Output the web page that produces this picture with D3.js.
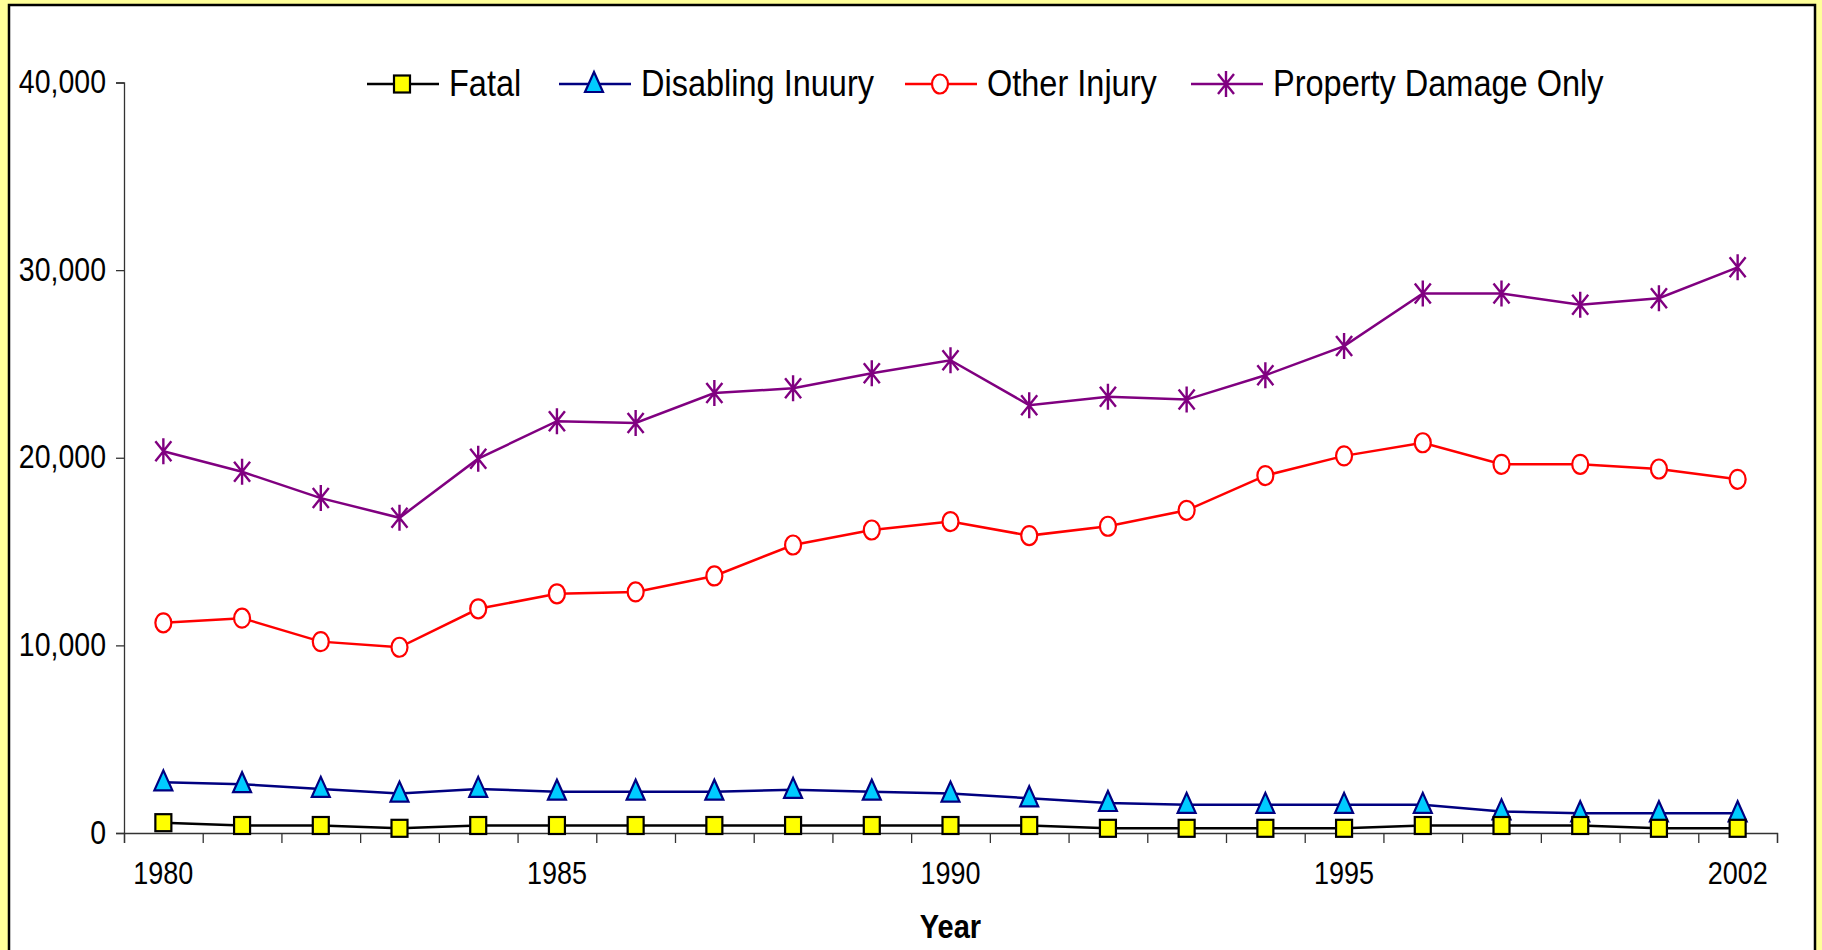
<!DOCTYPE html>
<html>
<head>
<meta charset="utf-8">
<script src="https://cdn.jsdelivr.net/npm/d3@7"></script>
<style>
  body { margin: 0; background: #ffff99; }
  svg { display: block; font-family: "Liberation Sans", Arial, sans-serif; }
</style>
</head>
<body>
<div id="chart"></div>
<script>
// Categories and series values
const years = ["1980", "1981", "1982", "1983", "1984", "1985", "1986", "1987", "1988", "1989",
  "1990", "1991", "1992", "1993", "1994", "1995", "1996", "1997", "1998", "1999", "2002"];
const labelYears = ["1980", "1985", "1990", "1995", "2002"];
const yTicks = [0, 10000, 20000, 30000, 40000];

const fatal = [550, 400, 400, 250, 400, 400, 400, 400, 400, 400, 400, 400, 250, 250, 250, 250, 400, 400, 400, 250, 250];
const disabling = [2700, 2600, 2350, 2100, 2350, 2200, 2200, 2200, 2300, 2200, 2100, 1850, 1600, 1500, 1500, 1500, 1500, 1150, 1050, 1050, 1050];
const otherInjury = [11200, 11450, 10200, 9900, 11950, 12750, 12850, 13700, 15350, 16150, 16600, 15850, 16350, 17200, 19050, 20100, 20800, 19650, 19650, 19400, 18850];
const propertyDamage = [20350, 19250, 17850, 16800, 19950, 21950, 21850, 23450, 23700, 24500, 25200, 22800, 23250, 23100, 24400, 25950, 28750, 28750, 28150, 28500, 30150];

const seriesNames = ["Fatal", "Disabling Inuury", "Other Injury", "Property Damage Only"];

const W = 1822, H = 950;
const plotLeft = 124, plotRight = 1777, plotTop = 82.5, plotBottom = 833;
const SY = 1.15; // text in the picture is a bit taller than normal

const svg = d3.select("#chart").append("svg")
  .attr("width", W)
  .attr("height", H);

// yellow frame and white panel
svg.append("rect").attr("width", W).attr("height", H).attr("fill", "#ffff99");
svg.append("rect")
  .attr("x", 9).attr("y", 5)
  .attr("width", 1806).attr("height", 960)
  .attr("fill", "white")
  .attr("stroke", "black")
  .attr("stroke-width", 2.5);

const x = d3.scaleBand().domain(years).range([plotLeft, plotRight]);
const xEdge = d3.scaleLinear().domain([0, years.length]).range([plotLeft, plotRight]);
const y = d3.scaleLinear().domain([0, 40000]).range([plotBottom, plotTop]);
const cx = d => x(d) + x.bandwidth() / 2;

function stretchText(g, px, py, str, size, anchor, weight) {
  return g.append("text")
    .attr("transform", `translate(${px},${py}) scale(1,${SY})`)
    .attr("text-anchor", anchor)
    .style("font-size", size + "px")
    .style("font-weight", weight || "normal")
    .attr("fill", "black")
    .text(str);
}

// Y axis
const yAxis = svg.append("g")
  .attr("transform", `translate(${plotLeft},0)`)
  .call(d3.axisLeft(y).tickValues(yTicks).tickSize(8).tickFormat(""));
yAxis.select(".domain").attr("stroke", "#333").attr("stroke-width", 1.3);
yAxis.selectAll(".tick line").attr("stroke", "#333").attr("stroke-width", 1.3);
yTicks.forEach(v => stretchText(svg, plotLeft - 18, y(v) + 10.5, d3.format(",")(v), 28.5, "end"));

// X axis: ticks on category edges
const xAxis = svg.append("g")
  .attr("transform", `translate(0,${plotBottom})`)
  .call(d3.axisBottom(xEdge).tickValues(d3.range(years.length + 1)).tickSize(10).tickFormat(""));
xAxis.select(".domain").attr("stroke", "#333").attr("stroke-width", 1.3);
xAxis.selectAll(".tick line").attr("stroke", "#333").attr("stroke-width", 1.3);
labelYears.forEach(yr => stretchText(svg, cx(yr), 884, yr, 27, "middle"));

stretchText(svg, (plotLeft + plotRight) / 2, 938, "Year", 29, "middle", "bold");

// markers
function drawMarker(g, kind, px, py) {
  if (kind === "square") {
    g.append("rect")
      .attr("x", px - 8).attr("y", py - 8.5)
      .attr("width", 16).attr("height", 17)
      .attr("fill", "#ffff00").attr("stroke", "black").attr("stroke-width", 2.2);
  } else if (kind === "triangle") {
    g.append("path")
      .attr("d", `M${px},${py - 12} L${px + 9},${py + 8} L${px - 9},${py + 8} Z`)
      .attr("fill", "#00ccff").attr("stroke", "#000080").attr("stroke-width", 2.2);
  } else if (kind === "circle") {
    g.append("ellipse")
      .attr("cx", px).attr("cy", py)
      .attr("rx", 8).attr("ry", 9.5)
      .attr("fill", "white").attr("stroke", "#ff0000").attr("stroke-width", 2.2);
  } else {
    g.append("path")
      .attr("d", `M${px},${py - 13} L${px},${py + 13} M${px - 8},${py - 10} L${px + 8},${py + 10} M${px + 8},${py - 10} L${px - 8},${py + 10}`)
      .attr("fill", "none").attr("stroke", "#800080").attr("stroke-width", 2.4);
  }
}

const series = [
  { name: seriesNames[0], values: fatal, color: "black", marker: "square" },
  { name: seriesNames[1], values: disabling, color: "#000080", marker: "triangle" },
  { name: seriesNames[2], values: otherInjury, color: "#ff0000", marker: "circle" },
  { name: seriesNames[3], values: propertyDamage, color: "#800080", marker: "star" }
];

const line = d3.line()
  .x((d, i) => cx(years[i]))
  .y(d => y(d));

// draw top series first so the low ones sit on top like the picture
series.slice().reverse().forEach(s => {
  const g = svg.append("g");
  g.append("path")
    .datum(s.values)
    .attr("d", line)
    .attr("fill", "none")
    .attr("stroke", s.color)
    .attr("stroke-width", 2.5);
  s.values.forEach((v, i) => drawMarker(g, s.marker, cx(years[i]), y(v)));
});

// Legend
const legendX = [367, 559, 905, 1191];
const legendY = 84;
series.forEach((s, i) => {
  const g = svg.append("g");
  g.append("line")
    .attr("x1", legendX[i]).attr("x2", legendX[i] + 72)
    .attr("y1", legendY).attr("y2", legendY)
    .attr("stroke", s.color).attr("stroke-width", 2.5);
  drawMarker(g, s.marker, legendX[i] + 35, legendY);
  stretchText(g, legendX[i] + 82, legendY + 11.5, s.name, 32.5, "start");
});
</script>
</body>
</html>
